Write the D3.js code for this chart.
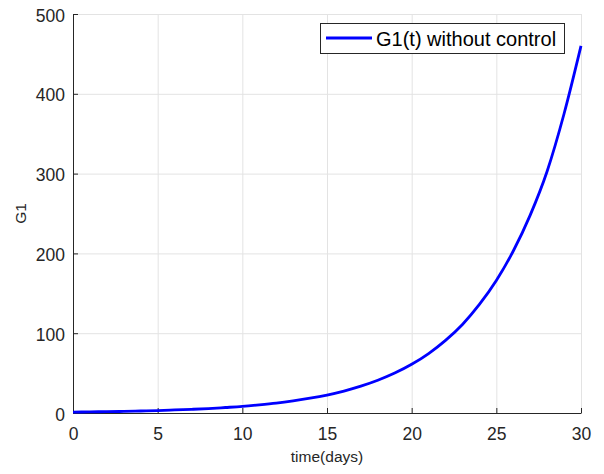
<!DOCTYPE html>
<html>
<head>
<meta charset="utf-8">
<script src="https://cdn.jsdelivr.net/npm/d3@7"></script>
<style>
  html, body { margin: 0; padding: 0; background: #fff; }
  svg { display: block; font-family: "Liberation Sans", Arial, Helvetica, sans-serif; }
</style>
</head>
<body>
<svg id="chart" width="604" height="474"></svg>
<script>
// Time points (days) and G1 without control
const days = [0,1,2,3,4,5,6,7,8,9,10,11,12,13,14,15,16,17,18,19,20,21,22,23,24,25,26,27,28,29,30];
const g1Values = [1.1,1.4,1.7,2.0,2.5,3.1,3.8,4.6,5.6,6.9,8.3,10.2,12.4,15.2,18.5,22.5,27.5,33.6,41,50,61,74.5,91,111,136,166,203,248,303,375,460];
const xTicks = [0,5,10,15,20,25,30];
const yTicks = [0,100,200,300,400,500];
const seriesName = "G1(t) without control";
const xLabel = "time(days)";
const yLabel = "G1";

const svg = d3.select("#chart");
const m = { left: 73, right: 581, top: 14, bottom: 413 };

const x = d3.scaleLinear().domain([0, 30]).range([m.left, m.right]);
const y = d3.scaleLinear().domain([0, 500]).range([m.bottom, m.top]);

const axisColor = "#262626";
const gridColor = "#e3e3e3";

// grid
const grid = svg.append("g");
grid.selectAll("line.vx").data(xTicks).enter().append("line")
  .attr("x1", d => x(d) + 0.5).attr("x2", d => x(d) + 0.5)
  .attr("y1", m.top).attr("y2", m.bottom)
  .attr("stroke", gridColor).attr("stroke-width", 1);
grid.selectAll("line.hy").data(yTicks).enter().append("line")
  .attr("y1", d => y(d) + 0.5).attr("y2", d => y(d) + 0.5)
  .attr("x1", m.left).attr("x2", m.right)
  .attr("stroke", gridColor).attr("stroke-width", 1);

// axes
const xAxis = d3.axisBottom(x).tickValues(xTicks).tickSizeInner(-5).tickSizeOuter(0).tickPadding(15);
const yAxis = d3.axisLeft(y).tickValues(yTicks).tickSizeInner(-5).tickSizeOuter(0).tickPadding(8);

const gx = svg.append("g").attr("transform", `translate(0,${m.bottom})`).call(xAxis);
const gy = svg.append("g").attr("transform", `translate(${m.left},0)`).call(yAxis);

[gx, gy].forEach(g => {
  g.select(".domain").attr("stroke", axisColor).attr("stroke-width", 1);
  g.selectAll(".tick line").attr("stroke", axisColor);
  g.selectAll(".tick text").attr("fill", axisColor)
    .style("font-size", "17.5px")
    .style("font-family", "'Liberation Sans', Arial, sans-serif");
});
gy.selectAll(".tick text").attr("dy", "0.4em");

// curve
const line = d3.line().x((d, i) => x(days[i])).y(d => y(d)).curve(d3.curveMonotoneX);
svg.append("path")
  .datum(g1Values)
  .attr("fill", "none")
  .attr("stroke", "#0000ff")
  .attr("stroke-width", 2.8)
  .attr("d", line);

// axis labels
svg.append("text")
  .attr("x", 327).attr("y", 462)
  .attr("text-anchor", "middle")
  .attr("fill", axisColor)
  .style("font-size", "15.5px")
  .text(xLabel);

svg.append("text")
  .attr("transform", `translate(26,${(m.top + m.bottom) / 2}) rotate(-90)`)
  .attr("text-anchor", "middle")
  .attr("fill", axisColor)
  .style("font-size", "15.5px")
  .text(yLabel);

// legend
const lg = svg.append("g");
lg.append("rect")
  .attr("x", 320.5).attr("y", 23.5).attr("width", 244).attr("height", 30)
  .attr("fill", "#fff").attr("stroke", axisColor).attr("stroke-width", 1);
lg.append("line")
  .attr("x1", 326).attr("x2", 372).attr("y1", 38).attr("y2", 38)
  .attr("stroke", "#0000ff").attr("stroke-width", 2.8);
lg.append("text")
  .attr("x", 376).attr("y", 46)
  .attr("fill", "#000")
  .style("font-size", "20px")
  .text(seriesName);
</script>
</body>
</html>
